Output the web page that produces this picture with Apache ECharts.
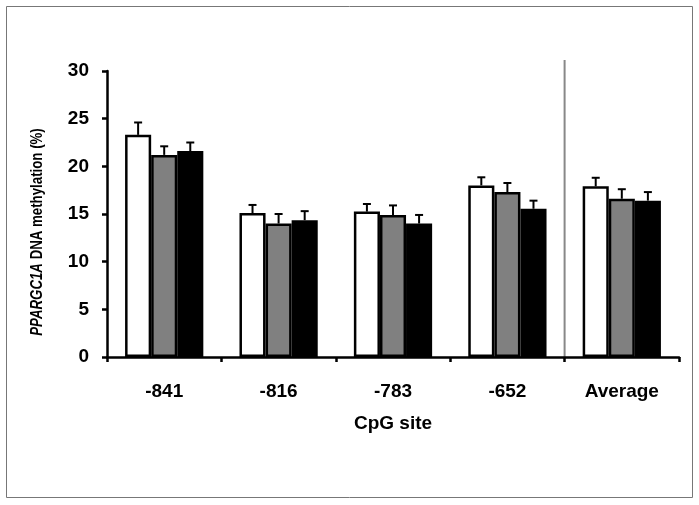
<!DOCTYPE html>
<html>
<head>
<meta charset="utf-8">
<script src="https://cdn.jsdelivr.net/npm/echarts@6/dist/echarts.min.js"></script>
<style>html,body{margin:0;padding:0;background:#fff}#c{width:699px;height:505px}</style>
</head>
<body>
<div id="c"></div>
<script>
var categories = ['-841', '-816', '-783', '-652', 'Average'];
var whiteVals = [23.3, 15.1, 15.25, 18.0, 17.9];
var whiteErr  = [1.3, 0.85, 0.8, 0.85, 0.9];
var grayVals  = [21.2, 14.0, 14.9, 17.3, 16.6];
var grayErr   = [0.9, 1.0, 1.0, 0.95, 1.0];
var blackVals = [21.6, 14.35, 14.0, 15.55, 16.4];
var blackErr  = [0.9, 0.95, 0.9, 0.85, 0.9];
var yTicks = [0, 5, 10, 15, 20, 25, 30];

var FONT = 'Liberation Sans, Arial, sans-serif';
var GAP = 0.316;
var chart = echarts.init(document.getElementById('c'));

function errSeries(vals, errs, k) {
  return {
    type: 'custom',
    z: 1,
    data: vals.map(function (v, i) { return [i, v, v + errs[i]]; }),
    renderItem: function (params, api) {
      var i = api.value(0);
      var p0 = api.coord([i, api.value(1)]);
      var p1 = api.coord([i, api.value(2)]);
      var band = api.size([1, 0])[0];
      var bw = band * (1 - GAP) / 3;
      var x = p0[0] + (k - 1) * bw;
      return {
        type: 'group',
        children: [
          { type: 'line', shape: { x1: x, y1: p0[1], x2: x, y2: p1[1] }, style: { stroke: '#000', lineWidth: 2 } },
          { type: 'line', shape: { x1: x - 4, y1: p1[1], x2: x + 4, y2: p1[1] }, style: { stroke: '#000', lineWidth: 2 } }
        ]
      };
    }
  };
}

var barStyle = function (c) { return { color: c, borderColor: '#000', borderWidth: 2.5 }; };

chart.setOption({
  animation: false,
  backgroundColor: '#fff',
  grid: { left: 107, right: 20, top: 71, bottom: 148, containLabel: false },
  xAxis: {
    type: 'category',
    data: categories,
    name: 'CpG site',
    nameLocation: 'middle',
    nameGap: 57,
    nameTextStyle: { fontFamily: FONT, fontSize: 19, fontWeight: 'bold', color: '#000' },
    axisLine: { lineStyle: { color: '#000', width: 2.5 } },
    axisTick: { show: true, length: 5, lineStyle: { color: '#000', width: 2.5 } },
    axisLabel: { fontFamily: FONT, fontSize: 19, fontWeight: 'bold', color: '#000', margin: 25 }
  },
  yAxis: {
    type: 'value',
    min: 0, max: 30, interval: 5,
    axisLine: { show: true, lineStyle: { color: '#000', width: 2.5 } },
    axisTick: { show: true, length: 5, lineStyle: { color: '#000', width: 2.5 } },
    splitLine: { show: false },
    axisLabel: {
      fontFamily: FONT, fontSize: 19, fontWeight: 'bold', color: '#000', margin: 18,
      formatter: function (v) { return yTicks.indexOf(v) >= 0 ? String(v) : ''; }
    }
  },
  series: [
    { type: 'bar', data: whiteVals, barGap: '0%', barCategoryGap: (GAP * 100) + '%', itemStyle: barStyle('#fff'), z: 2 },
    { type: 'bar', data: grayVals, itemStyle: barStyle('#808080'), z: 2 },
    { type: 'bar', data: blackVals, itemStyle: barStyle('#000'), z: 2 },
    errSeries(whiteVals, whiteErr, 0),
    errSeries(grayVals, grayErr, 1),
    errSeries(blackVals, blackErr, 2)
  ]
});

var xa = chart.convertToPixel({ xAxisIndex: 0 }, 3);
var xb = chart.convertToPixel({ xAxisIndex: 0 }, 4);
var xsep = (xa + xb) / 2;
var y0 = chart.convertToPixel({ yAxisIndex: 0 }, 0);

chart.setOption({
  graphic: [
    { type: 'rect', shape: { x: 6.5, y: 6.5, width: 686, height: 491 }, style: { fill: 'none', stroke: '#777', lineWidth: 1 }, silent: true },
    { type: 'line', shape: { x1: xsep, y1: 60, x2: xsep, y2: y0 }, style: { stroke: '#888', lineWidth: 2 }, z: 0 },
    {
      type: 'text', x: 37, y: 232, rotation: Math.PI / 2, scaleX: 0.78,
      style: {
        text: '{i|PPARGC1A} DNA methylation (%)',
        align: 'center', verticalAlign: 'middle',
        fontFamily: FONT, fontSize: 17, fontWeight: 'bold', fill: '#000',
        rich: { i: { fontFamily: FONT, fontSize: 17, fontStyle: 'italic', fontWeight: 'bold', fill: '#000' } }
      }
    }
  ]
});
</script>
</body>
</html>
